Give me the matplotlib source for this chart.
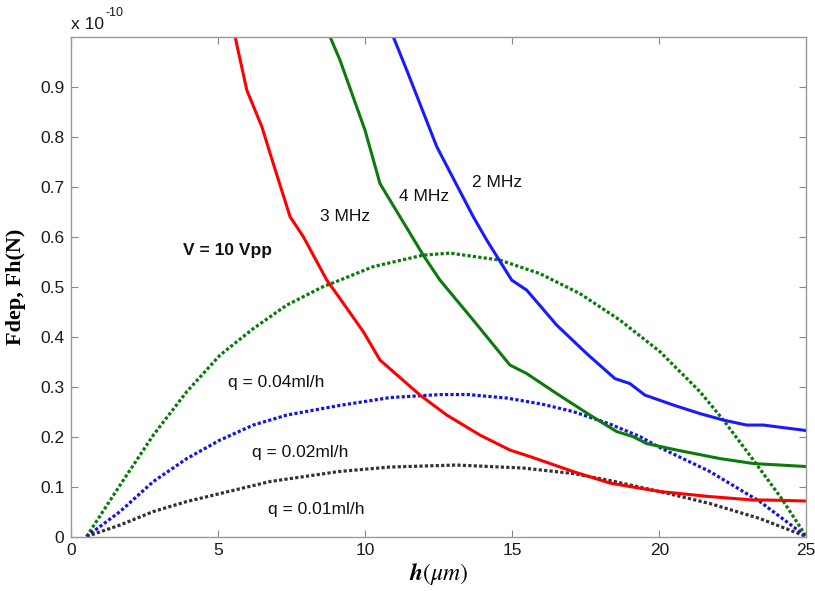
import matplotlib
matplotlib.use("Agg")
import matplotlib.pyplot as plt
import numpy as np

# ---- data (force in units of 1e-10 N, h in um) ----
SCALE = 1e-10

# dielectrophoretic force, V = 10 Vpp
h_3mhz = [5.57, 5.97, 6.48, 6.87, 7.44, 7.89, 8.69, 9.14, 9.93, 10.5, 11.86,
          12.77, 13.9, 14.92, 15.6, 17.07, 18.32, 19.0, 20.02, 21.7, 23.2, 23.65, 25.0]
f_3mhz = [1.0, 0.893, 0.82, 0.746, 0.64, 0.60, 0.513, 0.476, 0.41, 0.353, 0.283,
          0.243, 0.203, 0.173, 0.16, 0.13, 0.107, 0.10, 0.09, 0.08, 0.073, 0.073, 0.071]

h_4mhz = [8.8, 9.14, 9.99, 10.5, 11.97, 12.54, 13.67, 14.92, 15.49, 16.51, 17.64,
          18.55, 19.1, 19.57, 20.59, 22.06, 23.2, 25.0]
f_4mhz = [1.0, 0.953, 0.813, 0.706, 0.563, 0.513, 0.433, 0.343, 0.326, 0.286, 0.243,
          0.21, 0.2, 0.186, 0.173, 0.156, 0.146, 0.14]

h_2mhz = [10.95, 11.41, 12.43, 13.67, 14.13, 14.98, 15.49, 16.51, 17.53, 18.49,
          19.0, 19.51, 20.48, 21.38, 22.18, 22.97, 23.54, 25.0]
f_2mhz = [1.0, 0.933, 0.78, 0.64, 0.593, 0.513, 0.493, 0.423, 0.366, 0.316,
          0.306, 0.283, 0.263, 0.246, 0.233, 0.223, 0.223, 0.212]

# hydrodynamic force for three flow rates
h_q04 = [0.52, 1.66, 2.79, 3.93, 5.06, 6.19, 7.33, 8.57, 9.14, 10.27, 11.97, 12.88,
         14.58, 15.94, 17.3, 18.66, 20.02, 21.38, 22.18, 23.2, 24.16, 25.0]
f_q04 = [0.0, 0.103, 0.203, 0.29, 0.363, 0.416, 0.463, 0.50, 0.513, 0.54, 0.563, 0.567,
         0.553, 0.526, 0.486, 0.433, 0.37, 0.29, 0.233, 0.153, 0.076, 0.0]

h_q02 = [0.52, 1.66, 2.79, 3.93, 5.06, 6.19, 7.33, 9.1, 10.84, 12.54, 13.5, 14.81,
         16.0, 17.07, 18.32, 19.34, 20.02, 21.72, 23.42, 25.0]
f_q02 = [0.0, 0.05, 0.11, 0.156, 0.193, 0.223, 0.243, 0.262, 0.278, 0.284, 0.284, 0.277,
         0.265, 0.25, 0.225, 0.2, 0.178, 0.13, 0.07, 0.0]

h_q01 = [0.52, 1.66, 2.79, 3.93, 5.06, 6.76, 9.1, 10.84, 13.1, 15.37, 17.07, 18.32,
         20.02, 21.72, 23.42, 25.0]
f_q01 = [0.0, 0.023, 0.05, 0.07, 0.086, 0.11, 0.13, 0.139, 0.143, 0.137, 0.126, 0.112,
         0.09, 0.066, 0.036, 0.0]

x_ticks = [0, 5, 10, 15, 20, 25]
y_ticks = [0, 0.1, 0.2, 0.3, 0.4, 0.5, 0.6, 0.7, 0.8, 0.9]

plt.rcParams['font.family'] = ['Liberation Sans', 'DejaVu Sans']
plt.rcParams['mathtext.fontset'] = 'stix'

fig = plt.figure(figsize=(8.15, 5.91), dpi=100)
ax = fig.add_axes([0.0875, 0.0922, 0.9018, 0.8457])

dots = (0, (1, 0.7))
ax.plot(h_q04, np.array(f_q04) * SCALE, color='#0a7a0a', lw=2.3, ls=dots)
ax.plot(h_q02, np.array(f_q02) * SCALE, color='#1414e6', lw=2.3, ls=dots)
ax.plot(h_q01, np.array(f_q01) * SCALE, color='#333333', lw=2.3, ls=dots)

ax.plot(h_3mhz, np.array(f_3mhz) * SCALE, color='#ff0000', lw=2.2)
ax.plot(h_4mhz, np.array(f_4mhz) * SCALE, color='#0c7a0c', lw=2.2)
ax.plot(h_2mhz, np.array(f_2mhz) * SCALE, color='#1a1aff', lw=2.2)

ax.set_xlim(0, 25)
ax.set_ylim(0, 1.0 * SCALE)
ax.set_xticks(x_ticks)
ax.set_yticks([v * SCALE for v in y_ticks])
ax.set_xticklabels([str(t) for t in x_ticks])
ax.set_yticklabels(['0'] + ['%.1f' % v for v in y_ticks[1:]])
ax.tick_params(direction='in', top=True, right=True, length=5, width=0.8,
               color='#888888', labelsize=12.5, labelcolor='#1a1a1a', pad=5)
for s in ax.spines.values():
    s.set_color('#999999')
    s.set_linewidth(1.0)

# scale note at top left
ax.text(0.0, 1.010, 'x 10', transform=ax.transAxes,
        fontsize=12.5, color='#1a1a1a', ha='left', va='bottom')
ax.text(0.046, 1.036, '-10', transform=ax.transAxes,
        fontsize=9, color='#1a1a1a', ha='left', va='bottom')

ax.set_ylabel('Fdep, Fh(N)', family='Liberation Serif', fontweight='bold',
              fontsize=16, labelpad=10)
ax.set_xlabel(r'$\mathbfit{h}\left(\mathit{\mu m}\right)$', fontsize=17, labelpad=2)

ax.text(5.3, 0.573 * SCALE, 'V = 10 Vpp', fontsize=12.5, fontweight='bold',
        ha='center', va='center', color='#111111')
ax.text(9.31, 0.641 * SCALE, '3 MHz', fontsize=12.5, ha='center', va='center', color='#111111')
ax.text(12.0, 0.681 * SCALE, '4 MHz', fontsize=12.5, ha='center', va='center', color='#111111')
ax.text(14.48, 0.709 * SCALE, '2 MHz', fontsize=12.5, ha='center', va='center', color='#111111')
ax.text(6.96, 0.309 * SCALE, 'q = 0.04ml/h', fontsize=12.5, ha='center', va='center', color='#111111')
ax.text(7.78, 0.169 * SCALE, 'q = 0.02ml/h', fontsize=12.5, ha='center', va='center', color='#111111')
ax.text(8.33, 0.055 * SCALE, 'q = 0.01ml/h', fontsize=12.5, ha='center', va='center', color='#111111')

fig.savefig('out.png', dpi=100)
